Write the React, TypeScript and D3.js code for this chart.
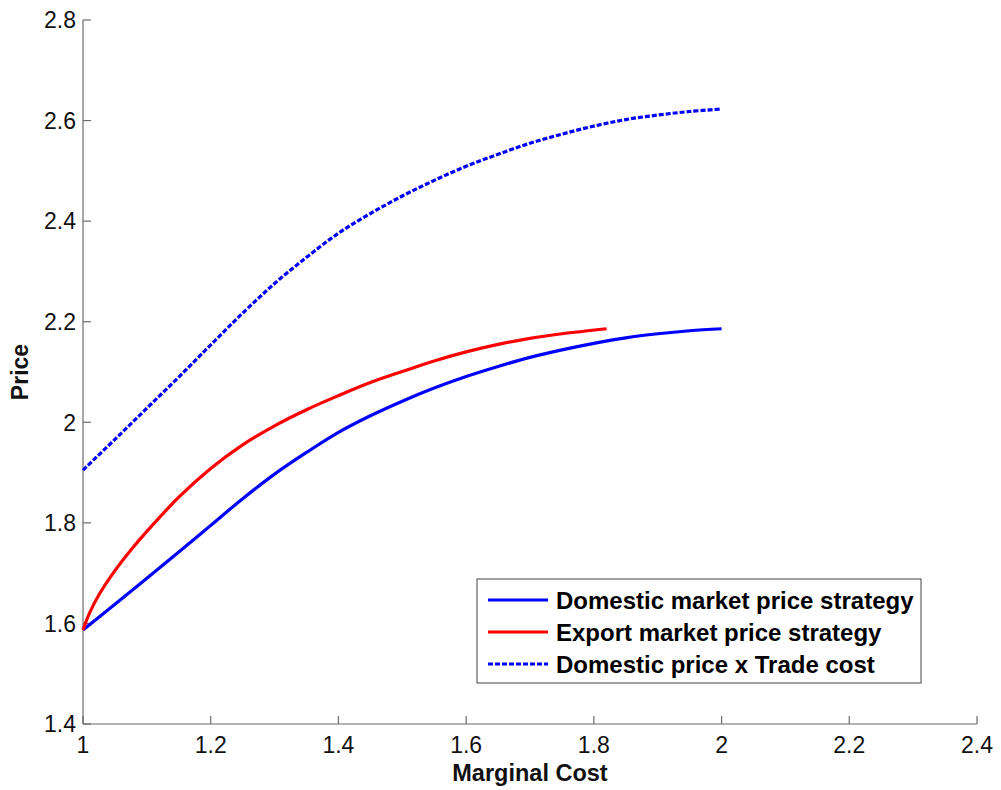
import React from "react";
import * as d3 from "d3";

const xTicks = [1, 1.2, 1.4, 1.6, 1.8, 2, 2.2, 2.4];
const yTicks = [1.4, 1.6, 1.8, 2, 2.2, 2.4, 2.6, 2.8];

const domesticX = [1.0, 1.05, 1.1, 1.15, 1.2, 1.25, 1.3, 1.35, 1.4, 1.45, 1.5, 1.55, 1.6, 1.65, 1.7, 1.75, 1.8, 1.85, 1.9, 1.95, 2.0];
const domesticY = [1.587, 1.638, 1.690, 1.742, 1.795, 1.848, 1.897, 1.940, 1.980, 2.013, 2.042, 2.068, 2.091, 2.111, 2.129, 2.144, 2.157, 2.168, 2.176, 2.182, 2.186];

const exportX = [1.0, 1.01, 1.025, 1.05, 1.075, 1.1, 1.15, 1.2, 1.25, 1.3, 1.35, 1.4, 1.45, 1.5, 1.55, 1.6, 1.65, 1.7, 1.75, 1.82];
const exportY = [1.587, 1.620, 1.657, 1.705, 1.746, 1.783, 1.851, 1.908, 1.955, 1.993, 2.025, 2.053, 2.079, 2.101, 2.122, 2.140, 2.155, 2.167, 2.176, 2.186];

const tradeX = [1.0, 1.05, 1.1, 1.15, 1.2, 1.25, 1.3, 1.35, 1.4, 1.45, 1.5, 1.55, 1.6, 1.65, 1.7, 1.75, 1.8, 1.85, 1.9, 1.95, 2.0];
const tradeY = [1.905, 1.966, 2.028, 2.090, 2.154, 2.217, 2.276, 2.328, 2.376, 2.415, 2.450, 2.481, 2.509, 2.533, 2.555, 2.573, 2.589, 2.602, 2.611, 2.618, 2.623];

const seriesNames = ["Domestic market price strategy", "Export market price strategy", "Domestic price x Trade cost"];

const W = 1001;
const H = 790;
const left = 83;
const right = 977;
const top = 20;
const bottom = 724;

export default function App() {
  const x = d3.scaleLinear().domain([1, 2.4]).range([left, right]);
  const y = d3.scaleLinear().domain([1.4, 2.8]).range([bottom, top]);
  const line = d3
    .line<[number, number]>()
    .x((d) => x(d[0]))
    .y((d) => y(d[1]))
    .curve(d3.curveCatmullRom.alpha(0.5));

  const zip = (a: number[], b: number[]) => a.map((v, i) => [v, b[i]] as [number, number]);

  const series = [
    { name: seriesNames[0], data: zip(domesticX, domesticY), color: "#0000ff", dash: undefined as string | undefined },
    { name: seriesNames[1], data: zip(exportX, exportY), color: "#ff0000", dash: undefined },
    { name: seriesNames[2], data: zip(tradeX, tradeY), color: "#0000ff", dash: "5,2" },
  ];

  const font = "'Liberation Sans', Arial, sans-serif";
  const axisColor = "#6b6b6b";
  const textColor = "#111";

  const legendX = 477;
  const legendY = 579;
  const legendW = 444;
  const legendH = 104;
  const rowY = [600, 632, 664];

  return (
    <svg
      width={W}
      height={H}
      style={{ position: "absolute", left: 0, top: 0, background: "#fff" }}
      fontFamily={font}
    >
      <rect x={0} y={0} width={W} height={H} fill="#fff" />
      {/* axes */}
      <line x1={left} x2={left} y1={top} y2={bottom} stroke={axisColor} strokeWidth={1.2} />
      <line x1={left} x2={right} y1={bottom} y2={bottom} stroke={axisColor} strokeWidth={1.2} />
      {yTicks.map((t) => (
        <g key={"y" + t}>
          <line x1={left} x2={left + 8} y1={y(t)} y2={y(t)} stroke={axisColor} strokeWidth={1.2} />
          <text x={left - 7} y={y(t)} dy="0.36em" textAnchor="end" fontSize={23} fill={textColor}>
            {d3.format("")(t)}
          </text>
        </g>
      ))}
      {xTicks.map((t) => (
        <g key={"x" + t}>
          <line x1={x(t)} x2={x(t)} y1={bottom} y2={bottom - 8} stroke={axisColor} strokeWidth={1.2} />
          <text x={x(t)} y={bottom + 29} textAnchor="middle" fontSize={23} fill={textColor}>
            {d3.format("")(t)}
          </text>
        </g>
      ))}
      <text x={(left + right) / 2} y={781} textAnchor="middle" fontSize={23.5} fontWeight="bold" fill={textColor}>
        Marginal Cost
      </text>
      <text
        transform={`translate(28, ${(top + bottom) / 2}) rotate(-90)`}
        textAnchor="middle"
        fontSize={23}
        fontWeight="bold"
        fill={textColor}
      >
        Price
      </text>

      {/* series */}
      {series.map((s) => (
        <path
          key={s.name}
          d={line(s.data) || ""}
          fill="none"
          stroke={s.color}
          strokeWidth={3.2}
          strokeDasharray={s.dash}
          strokeLinejoin="round"
        />
      ))}

      {/* legend */}
      <rect x={legendX} y={legendY} width={legendW} height={legendH} fill="#fff" stroke="#444" strokeWidth={1} />
      {series.map((s, i) => (
        <g key={"lg" + i}>
          <line
            x1={488}
            x2={548}
            y1={rowY[i]}
            y2={rowY[i]}
            stroke={s.color}
            strokeWidth={3.2}
            strokeDasharray={s.dash}
          />
          <text x={556} y={rowY[i]} dy="0.36em" fontSize={24} fontWeight="bold" fill="#000">
            {s.name}
          </text>
        </g>
      ))}
    </svg>
  );
}
